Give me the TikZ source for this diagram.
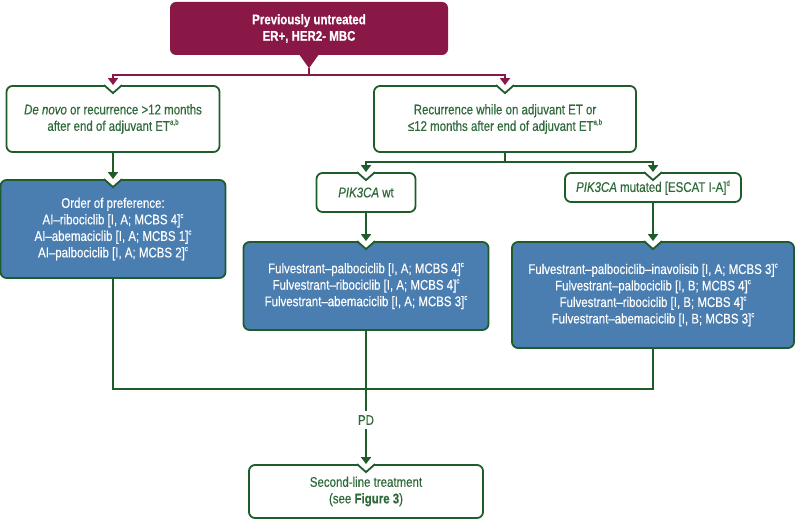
\documentclass[tikz,border=0pt]{standalone}
\usepackage{fontspec}
\setmainfont{Liberation Sans}[FakeStretch=0.82, FakeBold=0.4]
\usetikzlibrary{arrows.meta}
\definecolor{esmomaroon}{HTML}{8A1846}
\definecolor{esmogreen}{HTML}{1F5C2C}
\definecolor{esmoblue}{HTML}{4A7DB0}
\definecolor{esmotext}{HTML}{2F6A3A}
\newcommand{\refnote}[1]{\raisebox{0.85ex}{\fontsize{7.5}{7.5}\selectfont #1}}

\begin{document}
\begin{tikzpicture}[x=1pt, y=-1pt,
    every node/.style={font=\fontsize{14}{16.5}\selectfont, align=center, inner sep=0pt},
    greenbox/.style={draw=esmogreen, line width=1.8pt, fill=white, rounded corners=6pt, text=esmotext},
    bluebox/.style={draw=esmogreen, line width=1.8pt, fill=esmoblue, rounded corners=6pt, text=white},
    topbox/.style={fill=esmomaroon, rounded corners=6pt, text=white, font=\fontsize{14}{16.5}\selectfont\bfseries},
    link/.style={draw=esmogreen, line width=1.8pt},
    linkarrow/.style={link, -{Triangle[width=10pt,length=7pt]}},
    redarrow/.style={draw=esmomaroon, line width=1.8pt, -{Triangle[width=10pt,length=7pt]}}]
    \useasboundingbox (0,0) rectangle (800,521);
    \node[topbox, minimum width=278pt, minimum height=53pt] (start) at (309,28.5) {Previously untreated\\ER+, HER2- MBC};
    \node[greenbox, minimum width=213pt, minimum height=66pt] (denovo) at (113,119) {\textit{De novo} or recurrence >12 months\\after end of adjuvant ET\refnote{a,b}};
    \node[greenbox, minimum width=262pt, minimum height=66pt] (recur) at (505,119) {Recurrence while on adjuvant ET or\\≤12 months after end of adjuvant ET\refnote{a,b}};
    \node[bluebox, minimum width=225pt, minimum height=98pt] (ai) at (113,229) {Order of preference:\\AI–ribociclib [I, A; MCBS 4]\refnote{c}\\AI–abemaciclib [I, A; MCBS 1]\refnote{c}\\AI–palbociclib [I, A; MCBS 2]\refnote{c}};
    \node[greenbox, minimum width=99pt, minimum height=39pt] (wt) at (366,192.5) {\textit{PIK3CA} wt};
    \node[greenbox, minimum width=176pt, minimum height=29pt] (mut) at (653,187.5) {\textit{PIK3CA} mutated [ESCAT I-A]\refnote{d}};
    \node[bluebox, minimum width=245pt, minimum height=88pt] (wtblue) at (366,286) {Fulvestrant–palbociclib [I, A; MCBS 4]\refnote{c}\\Fulvestrant–ribociclib [I, A; MCBS 4]\refnote{c}\\Fulvestrant–abemaciclib [I, A; MCBS 3]\refnote{c}};
    \node[bluebox, minimum width=282pt, minimum height=106pt] (mutblue) at (653,295) {Fulvestrant–palbociclib–inavolisib [I, A; MCBS 3]\refnote{c}\\Fulvestrant–palbociclib [I, B; MCBS 4]\refnote{c}\\Fulvestrant–ribociclib [I, B; MCBS 4]\refnote{c}\\Fulvestrant–abemaciclib [I, B; MCBS 3]\refnote{c}};
    \node[greenbox, minimum width=234pt, minimum height=53pt] (second) at (366,491.5) {Second-line treatment\\(see \textbf{Figure 3})};
    \node[text=esmotext, inner sep=4pt] (pd) at (366,420) {PD};
    \foreach \n in {denovo, recur, ai, wt, mut, wtblue, mutblue, second} {
        \fill[white] ([xshift=-10pt,yshift=2pt]\n.north) -- ([xshift=10pt,yshift=2pt]\n.north) -- ([yshift=-8pt]\n.north) -- cycle;
        \draw[link, line join=miter] ([xshift=-9pt]\n.north) -- ([yshift=-8pt]\n.north) -- ([xshift=9pt]\n.north);
    }
    \coordinate (ptr) at ([yshift=-13pt]start.south);
    \fill[esmomaroon] ([xshift=-10pt,yshift=1pt]start.south) -- ([xshift=10pt,yshift=1pt]start.south) -- (ptr) -- cycle;
    \coordinate (split) at (309,75);
    \draw[redarrow] (ptr) -- (split) -| (denovo.north);
    \draw[redarrow] (split) -| (recur.north);
    \coordinate (recsplit) at (505,162);
    \draw[link] (recur.south) -- (recsplit);
    \draw[linkarrow] (recsplit) -| (wt.north);
    \draw[linkarrow] (recsplit) -| (mut.north);
    \draw[linkarrow] (denovo.south) -- (ai.north);
    \draw[linkarrow] (wt.south) -- (wtblue.north);
    \draw[linkarrow] (mut.south) -- (mutblue.north);
    \coordinate (merge) at (366,389);
    \draw[link] (ai.south) |- (mutblue.south |- merge) -- (mutblue.south);
    \draw[link] (wtblue.south) -- (merge) -- (pd.north);
    \draw[linkarrow] (pd.south) -- (second.north);
\end{tikzpicture}
\end{document}
